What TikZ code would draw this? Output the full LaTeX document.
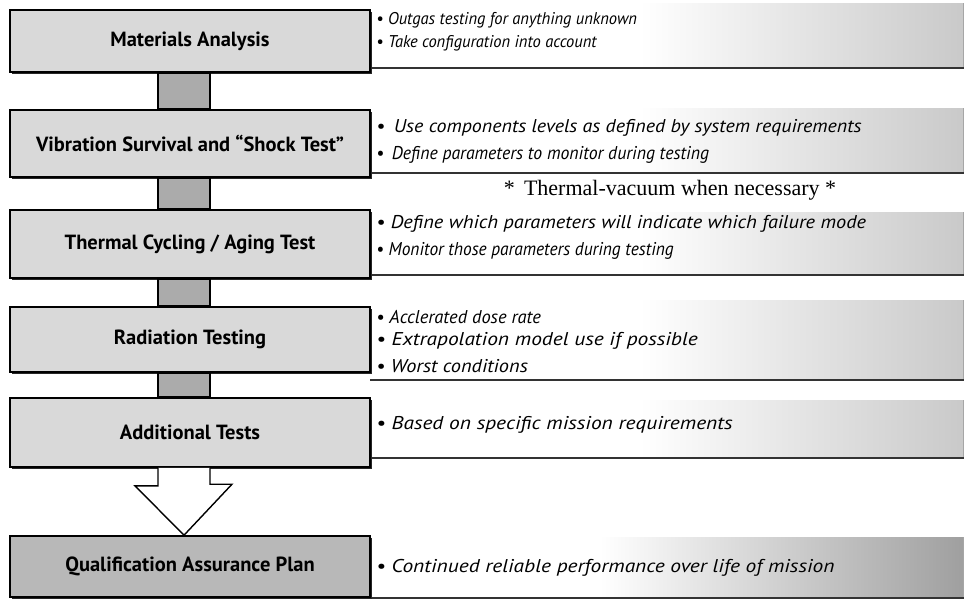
\documentclass[tikz,border=0pt]{standalone}
\usepackage{fontspec}
\usepackage{graphicx}
\setmainfont{Liberation Serif}
\setsansfont{PT Sans}
\newfontfamily\labfont{PT Sans}
\usetikzlibrary{calc,shadows}
\tikzset{
  stage/.style={draw=black, line width=1.6pt, fill=gray!30, minimum width=360pt,
    inner sep=0pt, font=\labfont\bfseries\fontsize{20.5}{22}\selectfont,
    drop shadow={shadow xshift=1.6pt, shadow yshift=-1.8pt, opacity=1, fill=black!85}},
  finalstage/.style={stage, fill=gray!56},
  link/.style={draw=black, line width=1.6pt, fill=gray!66},
  bigarrow/.style={draw=black, line width=1.4pt, fill=white, line join=miter},
  note/.style={anchor=west, inner sep=0pt, font=\sffamily\itshape\fontsize{18.5}{20}\selectfont},
  smallnote/.style={note, font=\sffamily\itshape\fontsize{17}{19}\selectfont},
  remark/.style={inner sep=0pt, font=\rmfamily\fontsize{22}{24}\selectfont},
  panelbase/.style={line width=1.6pt, draw=black!80},
  paneledge/.style={line width=1pt, draw=gray!70}
}
\newcommand{\wide}[2]{\scalebox{#1}[1]{#2}}
\begin{document}
\begin{tikzpicture}[x=1pt,y=-1pt]
\useasboundingbox (0,0) rectangle (968,600);
% right-hand panels
\foreach \t/\b in {3/68, 108/173, 212/275, 300/380, 400/458}{
  \shade[left color=white, right color=gray!42] (640,\t) rectangle (963,\b);
  \draw[paneledge] (963,\t) -- (963,\b);
  \draw[panelbase] (370,\b) -- (964,\b);
}
\shade[left color=white, right color=gray!75] (600,537) rectangle (963,598);
\draw[paneledge] (963,537) -- (963,598);
\draw[panelbase] (370,598) -- (964,598);

% stage boxes
\node[stage, minimum height=62pt] (b1) at (190,41) {Materials Analysis};
\node[stage, minimum height=67pt] (b2) at (190,143.5) {Vibration Survival and “Shock Test”};
\node[stage, minimum height=68pt] (b3) at (190,244) {Thermal Cycling / Aging Test};
\node[stage, minimum height=65pt] (b4) at (190,339.5) {Radiation Testing};
\node[stage, minimum height=69pt] (b5) at (190,432.5) {Additional Tests};
\node[finalstage, minimum height=61pt] (b6) at (190,566.5) {Qualification Assurance Plan};

% connecting bars
\foreach \u/\l in {b1/b2, b2/b3, b3/b4, b4/b5}{
  \draw[link] ($(\u.south)+(-32,0)$) rectangle ($(\l.north)+(20,0)$);
}
% block arrow
\coordinate (tip) at ($(b6.north)+(-6,0)$);
\draw[bigarrow] ($(b5.south)+(-32,0)$) -- ++(0,18) -- ++(-23,0) -- (tip)
  -- ++(48,-51) -- ++(-22,0) -- ($(b5.south)+(20,0)$);

% notes
\node[smallnote] (n1a) at (376,20) {\wide{0.97}{• Outgas testing for anything unknown}};
\node[smallnote] (n1b) at (376,43) {\wide{0.97}{• Take configuration into account}};
\node[note] (n2a) at (376,128) {\wide{1.08}{•\, Use components levels as defined by system requirements}};
\node[note] (n2b) at (376,155) {\wide{0.96}{•\, Define parameters to monitor during testing}};
\node[remark] (r) at (670,190) {*\, Thermal-vacuum when necessary *};
\node[note] (n3a) at (376,224) {\wide{1.1}{• Define which parameters will indicate which failure mode}};
\node[note] (n3b) at (376,251) {\wide{0.94}{• Monitor those parameters during testing}};
\node[note] (n4a) at (376,317) {• Acclerated dose rate};
\node[note] (n4b) at (376,341) {\wide{1.16}{• Extrapolation model use if possible}};
\node[note] (n4c) at (376,366) {\wide{1.1}{• Worst conditions}};
\node[note] (n5a) at (376,425) {\wide{1.16}{• Based on specific mission requirements}};
\node[note] (n6a) at (376,568) {\wide{1.16}{• Continued reliable performance over life of mission}};
\end{tikzpicture}
\end{document}
